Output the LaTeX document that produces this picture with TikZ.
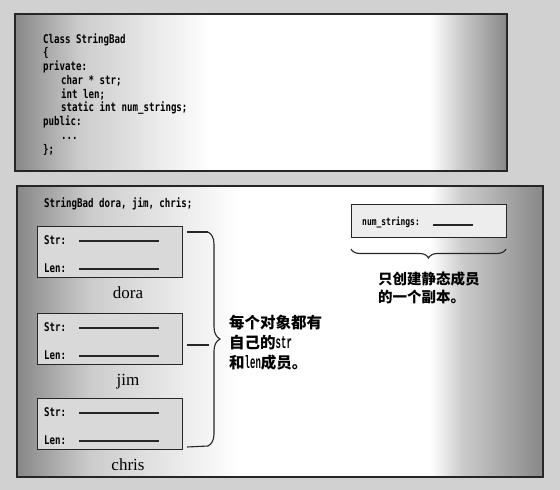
\documentclass[tikz,border=0pt]{standalone}
\usepackage{fontspec}
\setmainfont{Liberation Serif}
\newfontfamily\codefont[FakeStretch=0.76, UprightFont=* Bold]{DejaVu Sans Mono}
\newfontfamily\latinfont[FakeStretch=0.5, UprightFont=* Bold]{Liberation Mono}
\newfontfamily\cjk{Noto Sans CJK SC}
\usetikzlibrary{decorations.pathreplacing}
\definecolor{paper}{gray}{0.82}
\definecolor{edge}{gray}{0.53}
\definecolor{halfedge}{gray}{0.8}
\tikzset{
  panel/.style={draw=black!85, line width=1.2pt},
  fade/.style 2 args={left color=#1, right color=#2, draw=none},
  objbox/.style={draw=black!85, line width=1pt, fill=black!15, minimum width=145pt, minimum height=51pt, inner sep=0pt},
  codetext/.style={font=\codefont\fontsize{12}{12}\selectfont, inner sep=0pt},
  blank/.style={line width=1.1pt, draw=black!85},
  objname/.style={font=\fontsize{17}{17}\selectfont, inner sep=0pt, anchor=base},
  remark/.style={align=left, inner sep=0pt},
  bracket/.style={draw=black!85, line width=1.1pt, decorate, decoration={brace, amplitude=#1}},
}
\newcommand\latin[1]{{\latinfont\fontsize{18}{18}\selectfont #1}}
\newcommand\codedots{...}
\begin{document}
\begin{tikzpicture}[x=1pt, y=-1pt]
\useasboundingbox (0,0) rectangle (560,490);
\fill[paper] (0,0) rectangle (560,490);
% class declaration
\shade[fade={edge}{halfedge}] (15,14) rectangle (80,171);
\shade[fade={halfedge}{white}] (80,14) rectangle (210,171);
\fill[white] (210,14) rectangle (430,171);
\shade[fade={white}{halfedge}] (430,14) rectangle (460,171);
\shade[fade={halfedge}{edge}] (460,14) rectangle (507,171);
\draw[panel] (15,14) rectangle (507,171);
\foreach \codeline [count=\i] in {Class StringBad, \{, private:,
    \hspace*{18pt}char * str;, \hspace*{18pt}int len;,
    \hspace*{18pt}static int num\_strings;, public:,
    \hspace*{18pt}\codedots, \};} {
  \node[codetext, anchor=base west] (decl\i) at (43,29.25+13.75*\i) {\codeline};
}
% three objects
\shade[fade={edge}{halfedge}] (17,186) rectangle (90,477);
\shade[fade={halfedge}{white}] (90,186) rectangle (240,477);
\fill[white] (240,186) rectangle (430,477);
\shade[fade={white}{halfedge}] (430,186) rectangle (462,477);
\shade[fade={halfedge}{edge}] (462,186) rectangle (543,477);
\draw[panel] (17,186) rectangle (543,477);
\node[codetext, anchor=base west] (objdecl) at (44,207) {StringBad dora, jim, chris;};
\foreach \obj/\top in {dora/226, jim/313, chris/398} {
  \node[objbox, anchor=north west] (\obj) at (37,\top) {};
  \node[codetext, anchor=base west] (\obj str) at ([shift={(7pt,-18pt)}]\obj.north west) {Str:};
  \node[codetext, anchor=base west] (\obj len) at ([shift={(7pt,-46pt)}]\obj.north west) {Len:};
  \draw[blank] ([shift={(42pt,-15pt)}]\obj.north west) -- +(80pt,0);
  \draw[blank] ([shift={(42pt,-43pt)}]\obj.north west) -- +(80pt,0);
  \node[objname] (\obj name) at ([shift={(18pt,-20pt)}]\obj.south) {\obj};
}
% own members
\coordinate (btop) at (208,232);
\coordinate (bbot) at (208,446);
\draw[blank] ([shift={(4pt,-6pt)}]dora.north east) -- (btop);
\draw[blank] ([shift={(4pt,-6pt)}]jim.east) -- +(22pt,0);
\draw[blank] ([shift={(4pt,3pt)}]chris.south east) -- (bbot);
\draw[bracket=12pt] (btop) -- (bbot);
\node[remark, anchor=west, font=\cjk\bfseries\fontsize{15.5}{20}\selectfont] (own) at (229,343)
  {每个对象都有\\自己的\latin{str}\\和\latin{len}成员。};
% static member
\node[objbox, anchor=north west, minimum width=155pt, minimum height=33pt, fill=black!7] (numbox) at (351,204) {};
\node[codetext, anchor=base west, font=\codefont\fontsize{10.5}{10.5}\selectfont] (numlabel) at ([shift={(11pt,-21pt)}]numbox.north west) {num\_strings:};
\draw[blank] ([shift={(82pt,-21pt)}]numbox.north west) -- +(40pt,0);
\coordinate (nright) at (506,249);
\coordinate (nleft) at (351,249);
\draw[bracket=9pt] (nright) -- (nleft);
\node[remark, anchor=north west, font=\cjk\bfseries\fontsize{14.5}{18}\selectfont] (single) at (378,272)
  {只创建静态成员\\的一个副本。};
\end{tikzpicture}
\end{document}
